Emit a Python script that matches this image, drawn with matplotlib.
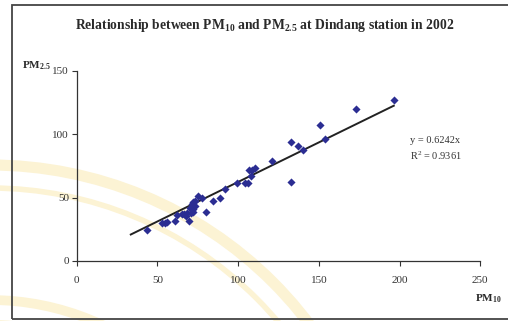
import matplotlib
matplotlib.use("Agg")
import matplotlib.pyplot as plt
from matplotlib.patches import Rectangle, Arc
import numpy as np

plt.rcParams['font.family'] = ['Liberation Serif', 'DejaVu Serif']
plt.rcParams['mathtext.default'] = 'regular'

pm10 = [43.8, 52.6, 54.7, 55.8, 60.9, 62.3, 65.0, 66.7, 68.2, 69.8, 70.6, 71.9,
        72.3, 71.2, 72.3, 73.3, 75.4, 77.4, 79.9, 84.6, 88.8, 91.7, 99.3, 104.3,
        106.3, 108.0, 106.8, 108.8, 110.5, 121.2, 132.6, 133.0, 136.9, 140.0,
        150.7, 154.0, 172.9, 196.4, 67.5, 70.0, 73.5]
pm25 = [24.5, 30.2, 29.7, 30.5, 31.6, 36.0, 36.9, 37.3, 37.6, 31.8, 37.6, 38.9,
        40.8, 45.0, 46.8, 47.6, 51.5, 49.5, 38.4, 47.6, 49.5, 56.6, 61.8, 61.8,
        61.8, 67.1, 71.8, 71.8, 73.6, 79.2, 62.3, 93.7, 90.8, 87.6,
        107.3, 96.3, 119.7, 126.8, 35.5, 42.0, 43.5]
slope = 0.6242
r2 = 0.9361
fit_x = [33.5, 196.4]
x_ticks = [0, 50, 100, 150, 200, 250]
y_ticks = [0, 50, 100, 150]

W, H = 508, 321
fig = plt.figure(figsize=(W/100, H/100), dpi=100)
fig.patch.set_facecolor('white')

# watermark arcs (decorative)
wm = fig.add_axes([0, 0, 1, 1], zorder=0)
wm.set_xlim(0, W); wm.set_ylim(H, 0); wm.axis('off')
for r, lw in [(400, 8), (377, 4)]:
    wm.add_patch(Arc((-10, 565), 2*r, 2*r, theta1=270, theta2=360,
                     color='#fcf3d4', lw=lw))
for r, lw in [(265, 7), (243, 3)]:
    wm.add_patch(Arc((-10, 565), 2*r, 2*r, theta1=270, theta2=360,
                     color='#fcf3d4', lw=lw))

ax = fig.add_axes([76.7/W, 60/H, (480.3-76.7)/W, 190/H], zorder=1)
ax.patch.set_alpha(0)
ax.scatter(pm10, pm25, marker='D', s=17, color='#2b2d92', zorder=3, linewidths=0)
fx = np.array(fit_x)
ax.plot(fx, slope*fx, color='#222222', lw=1.4, zorder=2)

ax.set_xlim(0, 250)
ax.set_ylim(0, 150)
ax.set_xticks(x_ticks)
ax.set_yticks(y_ticks)
for s in ['top', 'right']:
    ax.spines[s].set_visible(False)
for s in ['left', 'bottom']:
    ax.spines[s].set_color('#333333')
    ax.spines[s].set_linewidth(0.9)
ax.tick_params(axis='both', direction='out', length=3.5, width=0.8,
               color='#333333', labelsize=8, labelcolor='#333333')
ax.tick_params(axis='x', pad=7)
ax.tick_params(axis='y', pad=2)

fig.text(0.52, 1-26/H, 'Relationship between PM$_{10}$ and PM$_{2.5}$ at Dindang station in 2002',
         ha='center', va='center', fontsize=9.8, fontweight='bold', color='#2a2a2a')
fig.text(22/W, 1-66/H, 'PM$_{2.5}$', ha='left', va='center', fontsize=8,
         fontweight='bold', color='#2a2a2a')
fig.text(502/W, 1-299/H, 'PM$_{10}$', ha='right', va='center', fontsize=8,
         fontweight='bold', color='#2a2a2a')
fig.text(410/W, 1-140/H, 'y = %.4fx' % slope, ha='left', va='center',
         fontsize=7.5, color='#333333')
fig.text(410/W, 1-156/H, 'R$^2$ = %.4f' % r2, ha='left', va='center',
         fontsize=7.5, color='#333333')

fig.add_artist(Rectangle((12/W, 1-319/H), (W+5-12)/W, (319-4.5)/H,
                         transform=fig.transFigure, fill=False,
                         edgecolor='#444444', lw=1.3, clip_on=False))

fig.savefig('out.png', dpi=100, facecolor='white')
